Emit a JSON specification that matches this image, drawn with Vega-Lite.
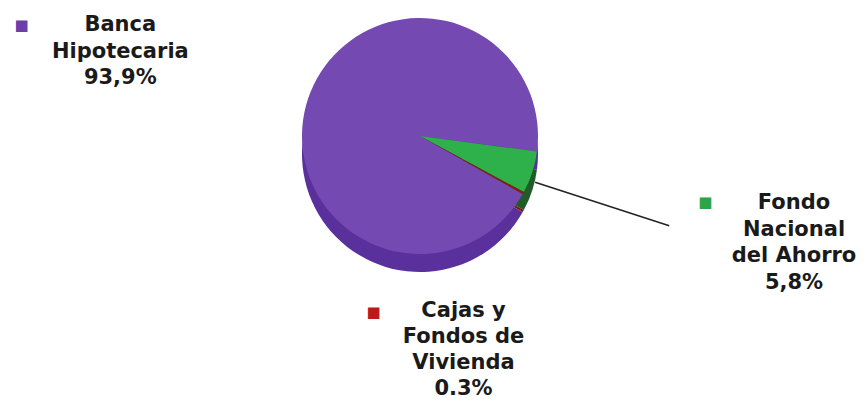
{
  "$schema": "https://vega.github.io/schema/vega-lite/v6.json",
  "autosize": "none",
  "width": 840,
  "height": 290,
  "padding": {"left": 0, "top": 0, "right": 28, "bottom": 112},
  "background": "white",
  "config": {"view": {"stroke": null}},
  "data": {
    "values": [
      {"categoria": "Banca Hipotecaria", "valor": 93.9, "etiqueta": "Banca\nHipotecaria\n93,9%"},
      {"categoria": "Fondo Nacional del Ahorro", "valor": 5.8, "etiqueta": "Fondo\nNacional\ndel Ahorro\n5,8%"},
      {"categoria": "Cajas y Fondos de Vivienda", "valor": 0.3, "etiqueta": "Cajas y\nFondos de\nVivienda\n0.3%"}
    ]
  },
  "encoding": {
    "theta": {"field": "valor", "type": "quantitative", "stack": true, "scale": {"range": [1.702, 7.985]}},
    "order": {"field": "categoria", "sort": "descending"},
    "detail": {"field": "categoria"}
  },
  "layer": [
    {
      "mark": {"type": "arc", "outerRadius": 118, "yOffset": 9},
      "encoding": {
        "color": {"field": "categoria", "type": "nominal", "legend": null,
          "scale": {"domain": ["Banca Hipotecaria", "Fondo Nacional del Ahorro", "Cajas y Fondos de Vivienda"], "range": ["#5a309c", "#1f5c27", "#7a170f"]}}
      }
    },
    {
      "mark": {"type": "arc", "outerRadius": 118, "yOffset": -9},
      "encoding": {
        "color": {"field": "categoria", "type": "nominal", "legend": null,
          "scale": {"domain": ["Banca Hipotecaria", "Fondo Nacional del Ahorro", "Cajas y Fondos de Vivienda"], "range": ["#7549b2", "#2eb04b", "#8c1b12"]}}
      }
    },
    {
      "mark": {"type": "arc", "innerRadius": 121, "outerRadius": 262, "padAngle": 3, "stroke": "#222222", "strokeWidth": 1.5, "fill": null},
      "encoding": {
        "strokeOpacity": {"condition": {"test": "datum.categoria === 'Fondo Nacional del Ahorro'", "value": 1}, "value": 0}
      }
    },
    {
      "mark": {"type": "text", "radius": 316, "dy": -19.5, "align": "center", "baseline": "middle", "lineBreak": "\n", "lineHeight": 26.5, "font": "DejaVu Sans", "fontWeight": "bold", "fontSize": 21, "fill": "#1a1a1a"},
      "encoding": {
        "text": {"condition": {"test": "datum.categoria === 'Banca Hipotecaria'", "field": "etiqueta"}, "value": ""}
      }
    },
    {
      "mark": {"type": "text", "radius": 390, "dx": 3, "dy": -62, "align": "center", "baseline": "middle", "lineBreak": "\n", "lineHeight": 26.5, "font": "DejaVu Sans", "fontWeight": "bold", "fontSize": 21, "fill": "#1a1a1a"},
      "encoding": {
        "text": {"condition": {"test": "datum.categoria === 'Fondo Nacional del Ahorro'", "field": "etiqueta"}, "value": ""}
      }
    },
    {
      "mark": {"type": "text", "radius": 180, "dx": -114, "dy": 79, "align": "center", "baseline": "middle", "lineBreak": "\n", "lineHeight": 26, "font": "DejaVu Sans", "fontWeight": "bold", "fontSize": 21, "fill": "#1a1a1a"},
      "encoding": {
        "text": {"condition": {"test": "datum.categoria === 'Cajas y Fondos de Vivienda'", "field": "etiqueta"}, "value": ""}
      }
    },
    {
      "mark": {"type": "text", "radius": 420, "dx": 0, "dy": 13, "align": "center", "baseline": "middle", "font": "DejaVu Sans", "fontSize": 15},
      "encoding": {
        "text": {"condition": {"test": "datum.categoria === 'Banca Hipotecaria'", "value": "■"}, "value": ""},
        "color": {"field": "categoria", "type": "nominal", "legend": null,
          "scale": {"domain": ["Banca Hipotecaria", "Fondo Nacional del Ahorro", "Cajas y Fondos de Vivienda"], "range": ["#6a3fa8", "#2aa646", "#b81c1c"]}}
      }
    },
    {
      "mark": {"type": "text", "radius": 300, "dx": 0, "dy": -35, "align": "center", "baseline": "middle", "font": "DejaVu Sans", "fontSize": 15},
      "encoding": {
        "text": {"condition": {"test": "datum.categoria === 'Fondo Nacional del Ahorro'", "value": "■"}, "value": ""},
        "color": {"field": "categoria", "type": "nominal", "legend": null,
          "scale": {"domain": ["Banca Hipotecaria", "Fondo Nacional del Ahorro", "Cajas y Fondos de Vivienda"], "range": ["#6a3fa8", "#2aa646", "#b81c1c"]}}
      }
    },
    {
      "mark": {"type": "text", "radius": 180, "dx": -204, "dy": 80, "align": "center", "baseline": "middle", "font": "DejaVu Sans", "fontSize": 15},
      "encoding": {
        "text": {"condition": {"test": "datum.categoria === 'Cajas y Fondos de Vivienda'", "value": "■"}, "value": ""},
        "color": {"field": "categoria", "type": "nominal", "legend": null,
          "scale": {"domain": ["Banca Hipotecaria", "Fondo Nacional del Ahorro", "Cajas y Fondos de Vivienda"], "range": ["#6a3fa8", "#2aa646", "#b81c1c"]}}
      }
    }
  ],
  "resolve": {"scale": {"color": "independent"}}
}
